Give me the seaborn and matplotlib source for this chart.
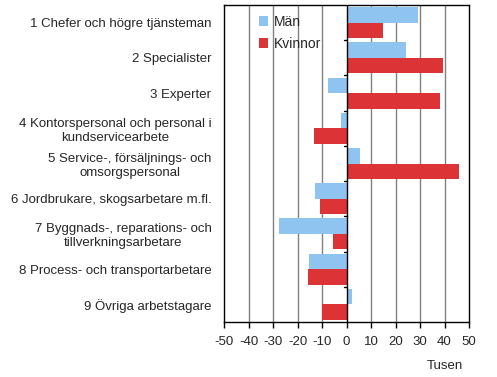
import pandas as pd
import seaborn as sns
import matplotlib.pyplot as plt

# --- Data (thousands) ---
categories = [
    "1 Chefer och högre tjänsteman",
    "2 Specialister",
    "3 Experter",
    "4 Kontorspersonal och personal i\nkundservicearbete",
    "5 Service-, försäljnings- och\nomsorgspersonal",
    "6 Jordbrukare, skogsarbetare m.fl.",
    "7 Byggnads-, reparations- och\ntillverkningsarbetare",
    "8 Process- och transportarbetare",
    "9 Övriga arbetstagare",
]
man = [29.1, 24.2, -7.6, -2.3, 5.4, -12.9, -27.6, -15.4, 2.2]
kvinnor = [14.8, 39.3, 38.1, -13.3, 45.9, -10.9, -5.6, -15.8, -10.1]
x_ticks = [-50, -40, -30, -20, -10, 0, 10, 20, 30, 40, 50]

df = pd.DataFrame({
    "Yrke": categories * 2,
    "Värde": man + kvinnor,
    "Kön": ["Män"] * len(man) + ["Kvinnor"] * len(kvinnor),
})

sns.set_style("white")
plt.rcParams["font.family"] = ["Liberation Sans", "DejaVu Sans"]

fig = plt.figure(figsize=(4.97, 3.77), dpi=100)
ax = fig.add_axes([0.4507, 0.1459, 0.4930, 0.8408])

sns.barplot(
    data=df, x="Värde", y="Yrke", hue="Kön", orient="h",
    palette={"Män": "#8FC4F1", "Kvinnor": "#DC3336"},
    width=0.88, saturation=1, errorbar=None, linewidth=0, ax=ax, zorder=3,
)

# gridlines and zero axis
ax.set_xlim(-50, 50)
ax.set_xticks(x_ticks)
ax.set_xticklabels([str(t) for t in x_ticks], fontsize=9.5)
for t in x_ticks:
    if t not in (-50, 0, 50):
        ax.axvline(t, color="#808080", lw=1, zorder=1)
ax.axvline(0, color="black", lw=1, zorder=4)

# category boundary ticks on the zero line
n = len(categories)
for i in range(n - 1):
    ax.plot([-1.2, 0], [i + 0.5, i + 0.5], color="black", lw=1, zorder=4)

ax.set_ylim(n - 0.5, -0.5)
ax.tick_params(axis="y", length=0, pad=9, labelsize=9.5)
ax.tick_params(axis="x", bottom=True, length=4, width=1, color="black", pad=6)
for lbl in ax.get_yticklabels():
    lbl.set_multialignment("center")

for s in ax.spines.values():
    s.set_color("black")
    s.set_linewidth(1)

ax.set_xlabel("")
ax.set_ylabel("")
fig.text(0.895, 0.022, "Tusen", fontsize=9.5, ha="center")

leg = ax.legend(
    loc="upper left", bbox_to_anchor=(0.09, 1.008), frameon=False, fontsize=10,
    handlelength=0.7, handleheight=0.7, handletextpad=0.4, labelspacing=0.55,
)

fig.savefig("out.png", dpi=100)
